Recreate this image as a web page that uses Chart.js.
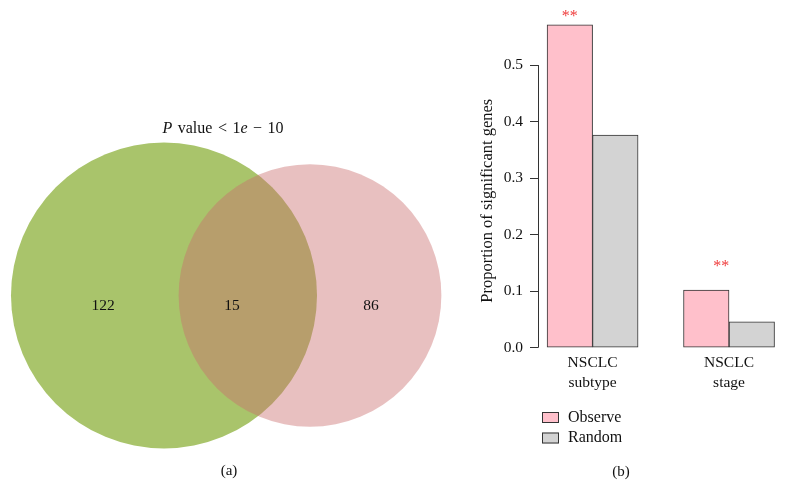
<!DOCTYPE html>
<html>
<head>
<meta charset="utf-8">
<script src="https://cdn.jsdelivr.net/npm/chart.js@4"></script>
<style>
  body { margin: 0; background: #fff; }
  #page { position: relative; width: 785px; height: 487px; font-family: 'Liberation Serif', serif; color: #111; }
  .box { position: absolute; top: 0; height: 487px; }
  .txt { position: absolute; font-size: 15px; line-height: 20px; white-space: nowrap; transform: translateX(-50%); }
</style>
</head>
<body>
<div id="page">
  <div class="box" style="left:0;width:450px"><canvas id="venn"></canvas></div>
  <div class="box" style="left:445px;width:340px"><canvas id="bars"></canvas></div>
  <div class="txt" style="left:223px;top:118px;font-size:16px;word-spacing:1.5px"><i>P</i> value &lt; 1<i>e</i> − 10</div>
  <div class="txt" style="left:229px;top:460px">(a)</div>
  <div class="txt" style="left:621px;top:461px">(b)</div>
</div>
<script>
// panel (a): venn counts -> only A, both, only B
const vennCounts = [122, 15, 86];
const vennColors = ['rgb(169,196,107)', 'rgba(202,109,109,0.43)'];

// panel (b): bar chart
const categories = [['NSCLC', 'subtype'], ['NSCLC', 'stage']];
const seriesNames = ['Observe', 'Random'];
const observe = [0.571, 0.102];
const random = [0.376, 0.046];
const yTicks = [0, 0.1, 0.2, 0.3, 0.4, 0.5];
const starLabels = ['**', '**'];

// layout bits
const FONT = 'Liberation Serif';
const INK = '#111';
const groupX = [2, 5];          // group centres on the x scale (barplot units)
const starX = [1.5, 4.83];
const starY = [0.585, 0.143];
const yTitleAt = 0.26;          // where the y title is centred, in axis units
const vennGap = 146;            // distance between circle centres
const vennK = 153 / Math.sqrt(137);
const vennLabelX = [-61, 68, 207];
const vennLabelY = -10;

// big bubbles should not shrink the plot area
Chart.registry.getController('bubble').prototype.getMaxOverflow = function () { return 0; };

// ---------- venn ----------
const setA = vennCounts[0] + vennCounts[1];
const setB = vennCounts[2] + vennCounts[1];

const vennText = {
  id: 'vennText',
  afterDatasetsDraw(chart) {
    const { ctx, scales: { x, y } } = chart;
    ctx.save();
    ctx.fillStyle = INK;
    ctx.font = '15.5px "' + FONT + '"';
    ctx.textAlign = 'center';
    ctx.textBaseline = 'middle';
    vennCounts.forEach((c, i) => {
      ctx.fillText(String(c), x.getPixelForValue(vennLabelX[i]), y.getPixelForValue(vennLabelY));
    });
    ctx.restore();
  }
};

new Chart(document.getElementById('venn'), {
  type: 'bubble',
  data: {
    datasets: [{
      data: [
        { x: 0, y: 0, r: vennK * Math.sqrt(setA) },
        { x: vennGap, y: 0, r: vennK * Math.sqrt(setB) }
      ],
      backgroundColor: vennColors,
      borderWidth: 0,
      hoverBorderWidth: 0,
      hoverRadius: 0,
      clip: false
    }]
  },
  options: {
    responsive: true,
    maintainAspectRatio: false,
    animation: false,
    events: [],
    layout: { padding: 0 },
    scales: {
      x: { display: false, min: -164, max: 286 },
      y: { display: false, min: -191.5, max: 295.5 }
    },
    plugins: { legend: { display: false }, tooltip: { enabled: false } }
  },
  plugins: [vennText]
});

// ---------- bars ----------
const barExtras = {
  id: 'barExtras',
  afterDraw(chart) {
    const { ctx, chartArea, scales: { x, y } } = chart;
    ctx.save();
    // y axis line only from first to last tick, like R
    ctx.strokeStyle = '#333';
    ctx.lineWidth = 1;
    ctx.beginPath();
    ctx.moveTo(chartArea.left + 0.5, y.getPixelForValue(yTicks[0]));
    ctx.lineTo(chartArea.left + 0.5, y.getPixelForValue(yTicks[yTicks.length - 1]));
    ctx.stroke();

    // y title
    ctx.save();
    ctx.translate(chartArea.left - 50, y.getPixelForValue(yTitleAt));
    ctx.rotate(-Math.PI / 2);
    ctx.fillStyle = INK;
    ctx.font = '16.5px "' + FONT + '"';
    ctx.textAlign = 'center';
    ctx.textBaseline = 'middle';
    ctx.fillText('Proportion of significant genes', 0, 0);
    ctx.restore();

    // significance stars
    ctx.fillStyle = '#ef3b3b';
    ctx.font = '16px "' + FONT + '"';
    ctx.textAlign = 'center';
    ctx.textBaseline = 'middle';
    starLabels.forEach((s, i) => {
      ctx.fillText(s, x.getPixelForValue(starX[i]), y.getPixelForValue(starY[i]));
    });

    // legend, stacked like the R one
    ctx.font = '16px "' + FONT + '"';
    ctx.textAlign = 'left';
    chart.data.datasets.forEach((ds, i) => {
      const bx = chartArea.left + 4;
      const by = 412 + i * 20.5;
      ctx.fillStyle = ds.backgroundColor;
      ctx.fillRect(bx, by, 17, 11);
      ctx.strokeStyle = '#333';
      ctx.strokeRect(bx + 0.5, by + 0.5, 16, 10);
      ctx.fillStyle = INK;
      ctx.fillText(ds.label, bx + 26, by + 5.5);
    });
    ctx.restore();
  }
};

new Chart(document.getElementById('bars'), {
  type: 'bar',
  data: {
    datasets: [
      {
        label: seriesNames[0],
        data: observe.map((v, i) => ({ x: groupX[i], y: v })),
        backgroundColor: '#ffc0cb'
      },
      {
        label: seriesNames[1],
        data: random.map((v, i) => ({ x: groupX[i], y: v })),
        backgroundColor: '#d3d3d3'
      }
    ]
  },
  options: {
    responsive: true,
    maintainAspectRatio: false,
    animation: false,
    events: [],
    layout: { padding: { left: 34, right: 1.4, top: 8.5, bottom: 0 } },
    datasets: {
      bar: {
        barThickness: 45.5,
        borderColor: '#333',
        borderWidth: 1,
        borderSkipped: false
      }
    },
    scales: {
      x: {
        type: 'linear',
        min: 0.8,
        max: 6.2,
        offset: false,
        grid: { display: false, drawTicks: false },
        border: { display: false },
        afterBuildTicks: s => { s.ticks = groupX.map(v => ({ value: v })); },
        afterFit: s => { s.height = 134.2; s.paddingLeft = 0; s.paddingRight = 0; },
        ticks: {
          autoSkip: false,
          maxRotation: 0,
          minRotation: 0,
          padding: 0.5,
          color: INK,
          font: { family: FONT, size: 15.5, lineHeight: 1.27 },
          callback: (v, i) => categories[i]
        }
      },
      y: {
        min: -0.009,
        max: 0.6,
        afterBuildTicks: s => { s.ticks = yTicks.map(v => ({ value: v })); },
        afterFit: s => { s.width = 59; s.paddingTop = 0; s.paddingBottom = 0; },
        grid: { drawOnChartArea: false, drawTicks: true, tickLength: 8, color: '#333' },
        border: { display: false },
        ticks: {
          padding: 7,
          color: INK,
          font: { family: FONT, size: 15.5 },
          callback: v => v.toFixed(1)
        }
      }
    },
    plugins: { legend: { display: false }, tooltip: { enabled: false } }
  },
  plugins: [barExtras]
});
</script>
</body>
</html>
